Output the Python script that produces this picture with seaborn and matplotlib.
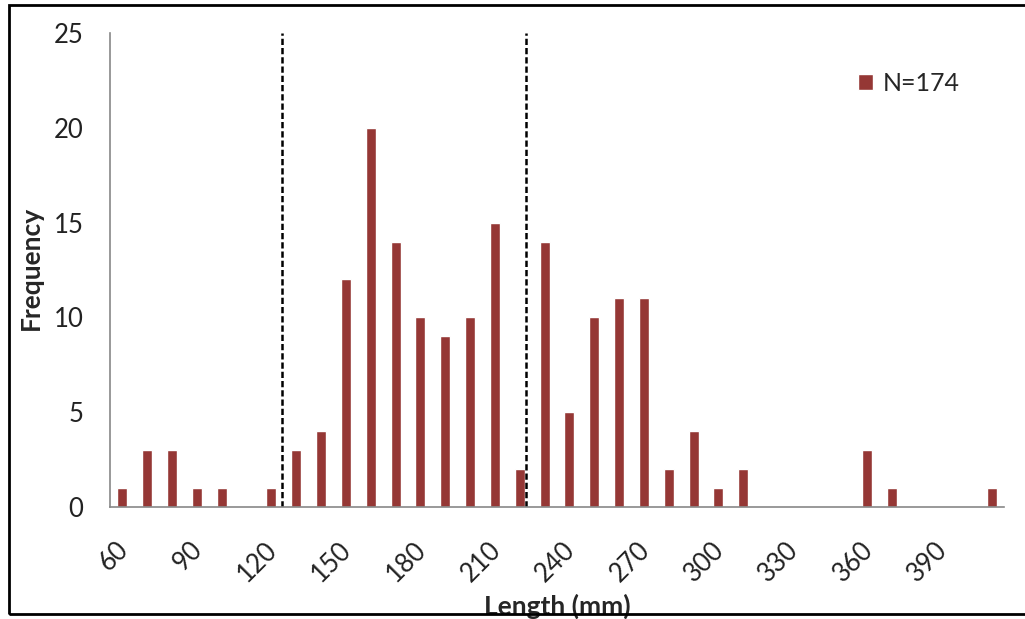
import pandas as pd
import matplotlib.pyplot as plt
import matplotlib.transforms as mtransforms
import seaborn as sns

# length classes (mm) and counts
lengths = [60, 70, 80, 90, 100, 110, 120, 130, 140, 150, 160, 170,
           180, 190, 200, 210, 220, 230, 240, 250, 260, 270, 280, 290,
           300, 310, 320, 330, 340, 350, 360, 370, 380, 390, 400, 410]
counts = [1, 3, 3, 1, 1, 0, 1, 3, 4, 12, 20, 14,
          10, 9, 10, 15, 2, 14, 5, 10, 11, 11, 2, 4,
          1, 2, 0, 0, 0, 0, 3, 1, 0, 0, 0, 1]
tick_labels = [60, 90, 120, 150, 180, 210, 240, 270, 300, 330, 360, 390]
yticks = [0, 5, 10, 15, 20, 25]
# dashed cut-off lines, in category-position units
cut_lines = [6.44, 16.25]

df = pd.DataFrame({'Length': [str(v) for v in lengths], 'Frequency': counts})

sns.set_style('white')
plt.rcParams['font.family'] = ['Lato', 'DejaVu Sans']

fig = plt.figure(figsize=(10.25, 6.19), dpi=100)
ax = fig.add_axes([110 / 1025, 112 / 619, 894 / 1025, 474 / 619])

sns.barplot(data=df, x='Length', y='Frequency', color='#953735', width=0.4,
            saturation=1, label='N=174', ax=ax)

for x in cut_lines:
    ax.plot([x, x], [0, 25], color='black', lw=1.8, linestyle=(0, (2.5, 1.2)))

ax.set_xlim(-0.5, len(lengths) - 0.5)
ax.set_ylim(0, 25)

# tick marks between categories, labels every third category
ax.set_xticks([i - 0.5 for i in range(len(lengths) + 1)])
ax.set_xticklabels([])
ax.set_xticks([lengths.index(v) for v in tick_labels], minor=True)
ax.set_xticklabels([str(v) for v in tick_labels], minor=True, rotation=45,
                   ha='right', rotation_mode='anchor', fontsize=18.5, color='#222222')
ax.tick_params(axis='x', which='major', length=8, width=1.2, color='#888888', direction='out')
ax.tick_params(axis='x', which='minor', length=0, pad=16)
# nudge the rotated labels (after tick_params, which resets transforms)
shift = mtransforms.ScaledTranslation(-7 / 100, -8 / 100, fig.dpi_scale_trans)
for lab in ax.get_xticklabels(minor=True):
    lab.set_transform(lab.get_transform() + shift)
ax.set_yticks(yticks)
ax.set_yticklabels([str(v) for v in yticks], fontsize=18.5, color='#222222')
ax.tick_params(axis='y', length=8, width=1.2, color='#888888', direction='out', pad=11)

for side in ['top', 'right']:
    ax.spines[side].set_visible(False)
for side in ['left', 'bottom']:
    ax.spines[side].set_color('#888888')
    ax.spines[side].set_linewidth(1.2)

ax.set_xlabel('')
ax.set_ylabel('')
fig.text(31 / 1025, 1 - 268 / 619, 'Frequency', rotation=90, fontsize=19,
         fontweight='bold', ha='center', va='center')
fig.text(557 / 1025, 1 - 606 / 619, 'Length (mm)', fontsize=19,
         fontweight='bold', ha='center', va='center')

ax.legend(loc='upper left', bbox_to_anchor=(0.811, 0.965), frameon=False,
          fontsize=18, handlelength=0.6, handleheight=0.6, handletextpad=0.4)

# outer chart frame
fig.patches.append(plt.Rectangle((9 / 1025, 5 / 619), 1.2, 609 / 619,
                                 transform=fig.transFigure, fill=False,
                                 edgecolor='black', lw=2, zorder=10))

fig.savefig('out.png', dpi=100)
